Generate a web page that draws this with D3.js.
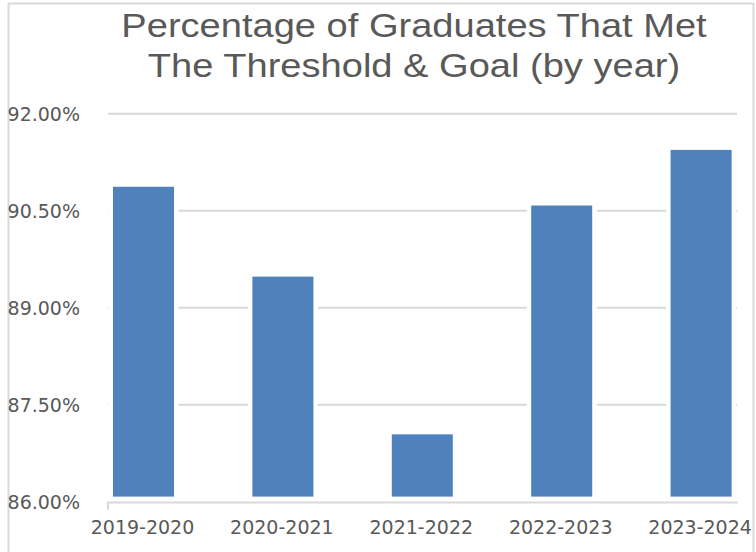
<!DOCTYPE html>
<html>
<head>
<meta charset="utf-8">
<script src="https://cdn.jsdelivr.net/npm/d3@7"></script>
<style>
  body { margin: 0; background: #fff; }
  svg { display: block; }
</style>
</head>
<body>
<div class="viz"></div>
<script>
const width = 756;
const height = 552;

const years = ['2019-2020', '2020-2021', '2021-2022', '2022-2023', '2023-2024'];
const rates = [90.87, 89.48, 87.04, 90.58, 91.44];
const yTicks = [86, 87.5, 89, 90.5, 92];
const titleLines = ['Percentage of Graduates That Met', 'The Threshold & Goal (by year)'];

const textColour = '#595959';
const gridColour = '#d9d9d9';
const barColour = '#4f81bd';

const svg = d3.select('.viz')
  .append('svg')
    .attr('width', width)
    .attr('height', height);

// chart border (bottom runs off the picture)
svg.append('rect')
  .attr('x', 8.5)
  .attr('y', 3.5)
  .attr('width', 745)
  .attr('height', 600)
  .attr('fill', '#fff')
  .attr('stroke', gridColour)
  .attr('stroke-width', 2);

const xScale = d3.scaleBand()
  .domain(years)
  .range([73.8, 770.8])
  .paddingInner(0.5624)
  .paddingOuter(0.2812);

const yScale = d3.scaleLinear()
  .domain([86, 92])
  .range([501.6, 113.7]);

const gridLeft = 108;
const gridRight = 737;

// gridlines
svg.append('g')
  .selectAll('line.grid')
  .data(yTicks.slice(1))
  .enter()
  .append('line')
    .attr('class', 'grid')
    .attr('x1', gridLeft)
    .attr('x2', gridRight)
    .attr('y1', d => yScale(d))
    .attr('y2', d => yScale(d))
    .attr('stroke', gridColour)
    .attr('stroke-width', 2);

// bars, white outline drawn under the fill breaks the gridlines
svg.append('g')
  .selectAll('rect.bar')
  .data(years.map((y, i) => ({year: y, value: rates[i]})))
  .enter()
  .append('rect')
    .attr('class', 'bar')
    .attr('x', d => xScale(d.year))
    .attr('width', xScale.bandwidth())
    .attr('y', d => yScale(d.value))
    .attr('height', d => yScale(86) - 5 - yScale(d.value))
    .attr('fill', barColour)
    .attr('stroke', '#fff')
    .attr('stroke-width', 9)
    .attr('paint-order', 'stroke');

// x axis line + left tick
svg.append('line')
  .attr('x1', gridLeft - 1)
  .attr('x2', gridRight + 1)
  .attr('y1', yScale(86) + 1)
  .attr('y2', yScale(86) + 1)
  .attr('stroke', gridColour)
  .attr('stroke-width', 2);

svg.append('line')
  .attr('x1', gridLeft)
  .attr('x2', gridLeft)
  .attr('y1', yScale(86) + 1)
  .attr('y2', yScale(86) + 8)
  .attr('stroke', gridColour)
  .attr('stroke-width', 2);

// y labels
svg.append('g')
  .selectAll('text.y-label')
  .data(yTicks)
  .enter()
  .append('text')
    .attr('class', 'y-label')
    .attr('x', 80)
    .attr('y', d => yScale(d) + 7)
    .attr('text-anchor', 'end')
    .attr('font-family', 'DejaVu Sans, sans-serif')
    .attr('font-size', 19)
    .attr('fill', textColour)
    .text(d => d.toFixed(2) + '%');

// x labels
svg.append('g')
  .selectAll('text.x-label')
  .data(years)
  .enter()
  .append('text')
    .attr('class', 'x-label')
    .attr('x', d => xScale(d) + xScale.bandwidth() / 2 - 1)
    .attr('y', 534)
    .attr('text-anchor', 'middle')
    .attr('font-family', 'DejaVu Sans, sans-serif')
    .attr('font-size', 19)
    .attr('fill', textColour)
    .text(d => d);

// title, slightly stretched horizontally like the original
svg.append('g')
  .attr('transform', 'translate(414,0) scale(1.12,1)')
  .selectAll('text.title')
  .data(titleLines)
  .enter()
  .append('text')
    .attr('class', 'title')
    .attr('x', 0)
    .attr('y', (d, i) => 37 + i * 40)
    .attr('text-anchor', 'middle')
    .attr('font-family', 'Liberation Sans, Arial, sans-serif')
    .attr('font-size', 34)
    .attr('fill', textColour)
    .text(d => d);
</script>
</body>
</html>
